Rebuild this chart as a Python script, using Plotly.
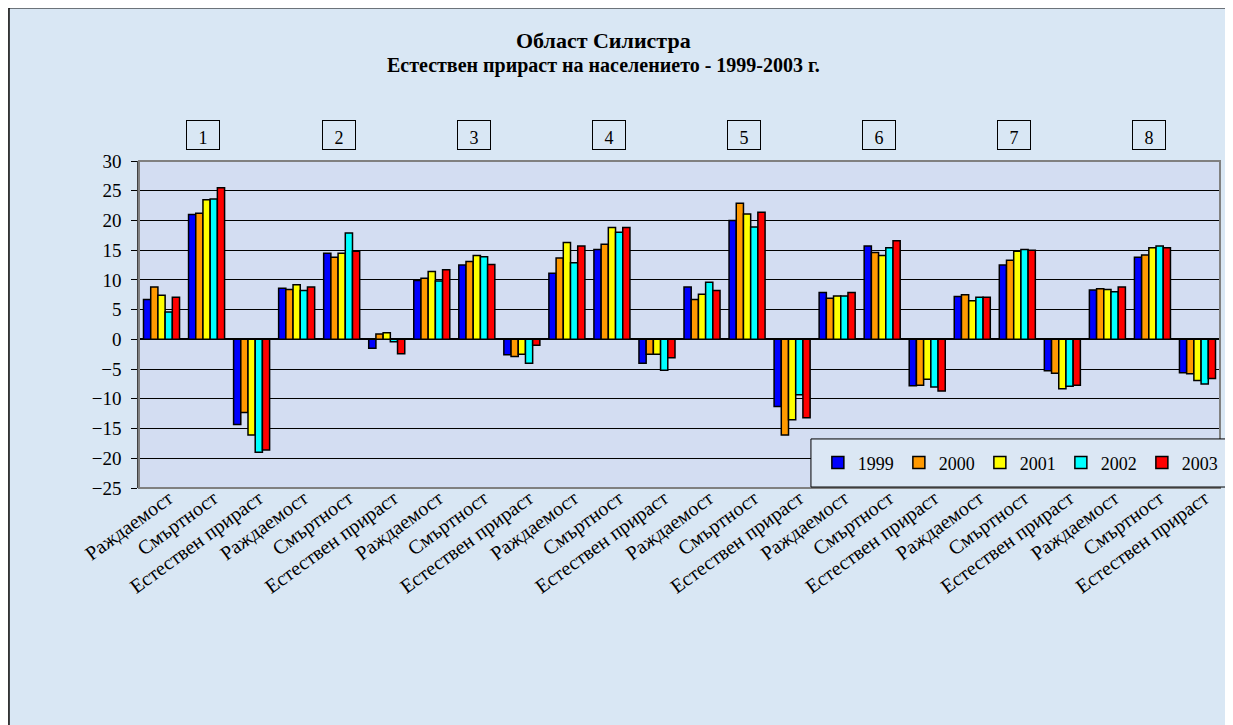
# -*- coding: utf-8 -*-

import plotly.graph_objects as go

# =========================
# DATA
# =========================
indicators = ["Раждаемост", "Смъртност", "Естествен прираст"]
groups = ["1", "2", "3", "4", "5", "6", "7", "8"]
years = ["1999", "2000", "2001", "2002", "2003"]
colors = ["#0000FF", "#FF9900", "#FFFF00", "#00FFFF", "#FF0000"]

# values per year, order: group 1 (births, deaths, growth), group 2 ...
y1999 = [6.7, 21.0, -14.3, 8.6, 14.5, -1.5, 9.9, 12.5, -2.6, 11.1, 15.1, -4.0,
         8.8, 20.0, -11.3, 7.9, 15.7, -7.8, 7.2, 12.5, -5.3, 8.3, 13.8, -5.6]
y2000 = [8.8, 21.2, -12.3, 8.4, 13.8, 0.9, 10.3, 13.1, -2.9, 13.7, 16.0, -2.5,
         6.7, 22.9, -16.1, 6.9, 14.6, -7.7, 7.5, 13.3, -5.7, 8.5, 14.2, -5.8]
y2001 = [7.4, 23.5, -16.1, 9.2, 14.5, 1.1, 11.4, 14.1, -2.5, 16.3, 18.8, -2.5,
         7.6, 21.1, -13.5, 7.3, 14.1, -6.7, 6.5, 14.8, -8.3, 8.4, 15.4, -6.9]
y2002 = [4.6, 23.6, -19.0, 8.2, 17.9, -0.4, 9.8, 13.9, -4.0, 12.9, 18.0, -5.2,
         9.6, 18.9, -9.3, 7.3, 15.4, -8.0, 7.1, 15.1, -7.9, 8.0, 15.7, -7.5]
y2003 = [7.1, 25.5, -18.6, 8.8, 14.8, -2.4, 11.7, 12.6, -1.0, 15.7, 18.8, -3.1,
         8.2, 21.4, -13.2, 7.9, 16.6, -8.7, 7.1, 15.0, -7.7, 8.8, 15.4, -6.6]

series = [y1999, y2000, y2001, y2002, y2003]

# =========================
# CONFIG
# =========================
FONT = "Liberation Serif"
PAPER = "#d9e7f4"
PLOT = "#d3ddf2"

labels = indicators * len(groups)
xs = list(range(len(labels)))

# =========================
# FIGURE
# =========================
fig = go.Figure()

for year, vals, col in zip(years, series, colors):
    fig.add_trace(go.Bar(
        x=xs, y=vals, name=year,
        marker=dict(color=col, line=dict(color="black", width=1.5)),
    ))

# numbered boxes above each group of three
for i, g in enumerate(groups):
    fig.add_annotation(
        x=i * 3 + 1 - 0.07, y=1.08, xref="x", yref="paper",
        xanchor="center", yanchor="middle",
        text=g, showarrow=False, valign="bottom",
        font=dict(family=FONT, size=18, color="black"),
        bgcolor=PAPER, bordercolor="black", borderwidth=1,
        width=30, height=26,
    )

# titles
fig.add_annotation(x=0.43, y=1.367, xref="paper", yref="paper",
                   xanchor="center", yanchor="middle",
                   text="<b>Област Силистра</b>", showarrow=False,
                   font=dict(family=FONT, size=22, color="black"))
fig.add_annotation(x=0.43, y=1.291, xref="paper", yref="paper",
                   xanchor="center", yanchor="middle",
                   text="<b>Естествен прираст на населението - 1999-2003 г.</b>",
                   showarrow=False,
                   font=dict(family=FONT, size=20, color="black"))

# outer chart frame (left + top) and white margin outside it
fig.add_shape(type="rect", xref="paper", yref="paper",
              x0=-0.2, x1=-0.1203, y0=-0.8, y1=1.6,
              fillcolor="white", line=dict(width=0), layer="below")
fig.add_shape(type="rect", xref="paper", yref="paper",
              x0=-0.2, x1=1.1, y0=1.469, y1=1.6,
              fillcolor="white", line=dict(width=0), layer="below")
fig.add_shape(type="line", xref="paper", yref="paper",
              x0=-0.1203, x1=-0.1203, y0=-0.8, y1=1.469,
              line=dict(color="black", width=1.5))
fig.add_shape(type="line", xref="paper", yref="paper",
              x0=-0.1203, x1=1.1, y0=1.469, y1=1.469,
              line=dict(color="black", width=1.5))

# plot area border
fig.add_shape(type="rect", xref="paper", yref="paper",
              x0=0, x1=1, y0=0, y1=1,
              line=dict(color="#808080", width=2))

# legend box
fig.add_shape(type="rect", xref="paper", yref="paper",
              x0=0.6216, x1=1.008, y0=0.003, y1=0.150,
              fillcolor="#dbe7f4", line=dict(color="black", width=1),
              layer="above")

fig.update_layout(
    width=1233, height=725,
    margin=dict(l=131, r=21, t=153, b=245),
    paper_bgcolor=PAPER,
    plot_bgcolor=PLOT,
    barmode="group",
    bargap=0.2,
    bargroupgap=0,
    font=dict(family=FONT, size=16, color="black"),
    showlegend=True,
    legend=dict(
        orientation="h",
        x=0.628, xanchor="left",
        y=0.077, yanchor="middle",
        bgcolor="rgba(0,0,0,0)",
        borderwidth=0,
        font=dict(family=FONT, size=18, color="black"),
        entrywidth=36,
        itemwidth=30,
    ),
    xaxis=dict(
        range=[-0.5, 23.5],
        tickmode="array", tickvals=xs, ticktext=labels,
        tickangle=-36,
        tickfont=dict(family=FONT, size=20, color="black"),
        ticklabelshift=7,
        ticklabelstandoff=-6,
        showgrid=False, zeroline=False, showline=False,
        ticks="",
    ),
    yaxis=dict(
        range=[-25, 30],
        dtick=5, tick0=0,
        showgrid=True, gridcolor="black", gridwidth=1,
        zeroline=True, zerolinecolor="black", zerolinewidth=1.5,
        showline=True, linecolor="#404040", linewidth=1.5,
        ticks="outside", ticklen=6, tickcolor="black",
        ticklabelstandoff=6,
        tickfont=dict(family=FONT, size=19, color="black"),
    ),
)

fig.write_html("out.html")
